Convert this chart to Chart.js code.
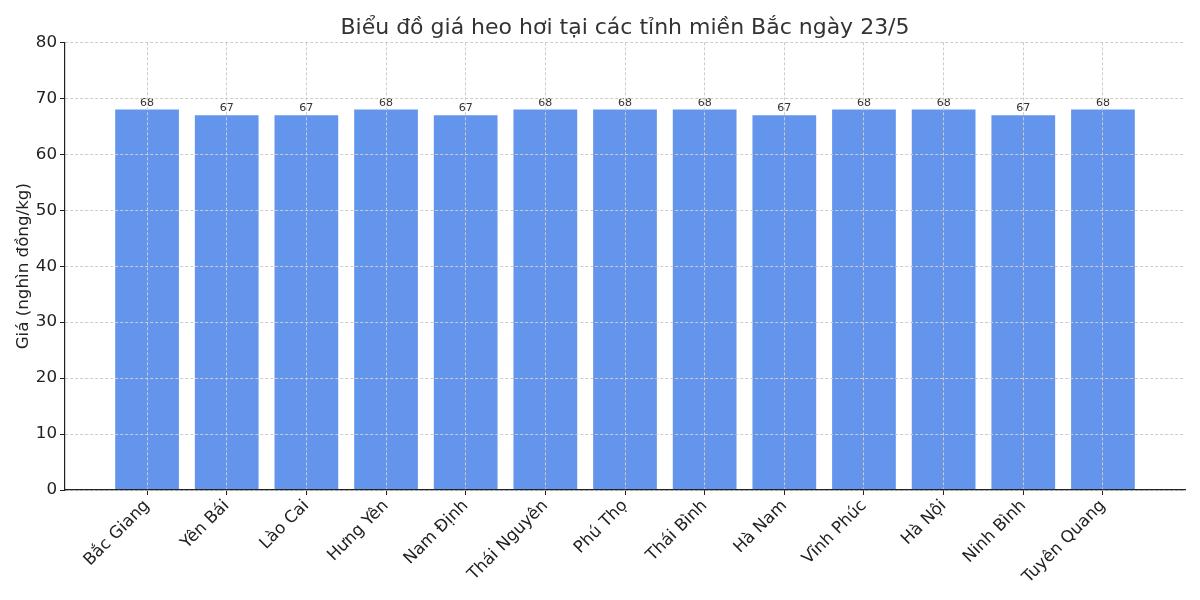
<!DOCTYPE html>
<html>
<head>
<meta charset="utf-8">
<script src="https://cdn.jsdelivr.net/npm/chart.js@4.4.0/dist/chart.umd.min.js"></script>
<style>
  html, body { margin: 0; padding: 0; background: #fff; }
</style>
</head>
<body>
<canvas id="giaHeoChart" width="1200" height="600"></canvas>
<script>
const provinces = ['Bắc Giang', 'Yên Bái', 'Lào Cai', 'Hưng Yên', 'Nam Định', 'Thái Nguyên',
    'Phú Thọ', 'Thái Bình', 'Hà Nam', 'Vĩnh Phúc', 'Hà Nội', 'Ninh Bình', 'Tuyên Quang'];
const prices = [68, 67, 67, 68, 67, 68, 68, 68, 67, 68, 68, 67, 68];
const yTicks = [0, 10, 20, 30, 40, 50, 60, 70, 80];

const font = "'DejaVu Sans', sans-serif";

// nhãn giá trị trên mỗi cột
const valueLabels = {
    id: 'valueLabels',
    afterDatasetsDraw(chart) {
        const ctx = chart.ctx;
        const meta = chart.getDatasetMeta(0);
        ctx.save();
        ctx.font = "11px " + font;
        ctx.fillStyle = '#333';
        ctx.textAlign = 'center';
        ctx.textBaseline = 'bottom';
        meta.data.forEach(function (bar, i) {
            ctx.fillText(prices[i], bar.x, bar.y - 1);
        });
        ctx.restore();
    }
};

new Chart(document.getElementById('giaHeoChart'), {
    type: 'bar',
    data: {
        datasets: [{
            data: prices.map(function (v, i) { return { x: i, y: v }; }),
            backgroundColor: '#6495ED',
            barPercentage: 0.8,
            categoryPercentage: 1.0
        }]
    },
    options: {
        responsive: false,
        animation: false,
        devicePixelRatio: 1,
        layout: { padding: { left: 14, right: 15, top: 5, bottom: 0 } },
        plugins: {
            legend: { display: false },
            tooltip: { enabled: false },
            title: {
                display: true,
                fullSize: false,
                text: 'Biểu đồ giá heo hơi tại các tỉnh miền Bắc ngày 23/5',
                color: '#333',
                font: { family: font, size: 22, weight: 'normal' },
                padding: { top: 10, bottom: 1 }
            }
        },
        scales: {
            x: {
                type: 'linear',
                min: -1.03,
                max: 13.03,
                offset: false,
                afterBuildTicks: function (axis) {
                    axis.ticks = provinces.map(function (p, i) { return { value: i }; });
                },
                afterFit: function (axis) { axis.height = 110; },
                ticks: {
                    autoSkip: false,
                    minRotation: 45,
                    maxRotation: 45,
                    padding: 1,
                    color: '#222',
                    font: { family: font, size: 16.7 },
                    callback: function (v) { return provinces[v]; }
                },
                grid: {
                    offset: false,
                    color: '#cccccc',
                    tickColor: '#222',
                    tickLength: 5,
                    z: 1
                },
                border: { color: '#222', width: 1.2, dash: [3, 2], z: 2 }
            },
            y: {
                min: 0,
                max: 80,
                afterBuildTicks: function (axis) {
                    axis.ticks = yTicks.map(function (v) { return { value: v }; });
                },
                afterFit: function (axis) { axis.width = 51; },
                title: {
                    display: true,
                    text: 'Giá (nghìn đồng/kg)',
                    color: '#222',
                    font: { family: font, size: 16.7 },
                    padding: 0
                },
                ticks: {
                    color: '#222',
                    font: { family: font, size: 16.7 },
                    padding: 3
                },
                grid: {
                    color: '#cccccc',
                    tickColor: '#222',
                    tickLength: 5,
                    z: 1
                },
                border: { color: '#222', width: 1.2, dash: [3, 2], z: 2 }
            }
        }
    },
    plugins: [valueLabels]
});
</script>
</body>
</html>
